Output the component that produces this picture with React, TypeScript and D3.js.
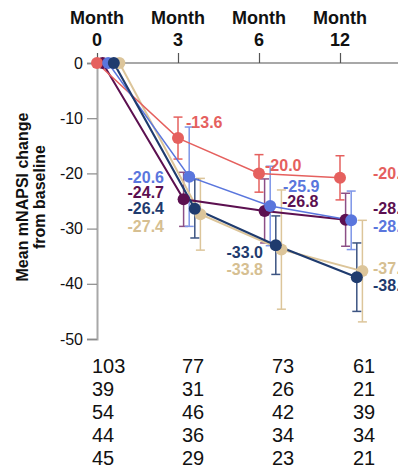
import React, { useEffect, useRef } from "react";
import * as d3 from "d3";

// time points (months) and y ticks
const months = ["0", "3", "6", "12"];
const yTicks = [0, -10, -20, -30, -40, -50];

// mean change and error per group
const redValues = [0, -13.6, -20.0, -20.8];
const redErr = [0, 3.8, 3.4, 4.0];
const purpleValues = [0, -24.7, -26.8, -28.4];
const purpleErr = [0, 4.9, 5.8, 4.8];
const blueValues = [0, -20.6, -25.9, -28.5];
const blueErr = [0, 9.0, 7.2, 5.3];
const navyValues = [0, -26.4, -33.0, -38.8];
const navyErr = [0, 5.3, 5.3, 6.2];
const tanValues = [0, -27.4, -33.8, -37.7];
const tanErr = [0, 6.5, 10.8, 9.2];

// patients at each visit (table under the chart)
const nRow1 = [103, 77, 73, 61];
const nRow2 = [39, 31, 26, 21];
const nRow3 = [54, 46, 42, 39];
const nRow4 = [44, 36, 34, 34];
const nRow5 = [45, 29, 23, 21];

type Lbl = { anchor: string; dx: number; dy: number } | null;

// label nudges (px) relative to month tick / point, kept apart from the data
const redLabels: Lbl[] = [null, { anchor: "start", dx: 8, dy: -16 }, { anchor: "start", dx: 6, dy: -8 }, { anchor: "start", dx: 33, dy: -5 }];
const purpleLabels: Lbl[] = [null, { anchor: "end", dx: -14, dy: -7 }, { anchor: "start", dx: 23, dy: -10 }, { anchor: "start", dx: 33, dy: -12 }];
const blueLabels: Lbl[] = [null, { anchor: "end", dx: -14, dy: 1 }, { anchor: "start", dx: 24, dy: -20 }, { anchor: "start", dx: 33, dy: 6 }];
const navyLabels: Lbl[] = [null, { anchor: "end", dx: -14, dy: 0 }, { anchor: "end", dx: 4, dy: 7 }, { anchor: "start", dx: 33, dy: 8 }];
const tanLabels: Lbl[] = [null, { anchor: "end", dx: -14, dy: 12 }, { anchor: "end", dx: 4, dy: 20 }, { anchor: "start", dx: 33, dy: -3 }];

const series = [
  { key: "red", values: redValues, err: redErr, labels: redLabels, slot: 0, color: "#e5605e", errColor: "#e5605e", textColor: "#e5605e", width: 1.5 },
  { key: "purple", values: purpleValues, err: purpleErr, labels: purpleLabels, slot: 1, color: "#5c1050", errColor: "#8c4f86", textColor: "#5c1050", width: 2 },
  { key: "blue", values: blueValues, err: blueErr, labels: blueLabels, slot: 2, color: "#5a76dd", errColor: "#7d95e8", textColor: "#5a76dd", width: 1.5 },
  { key: "navy", values: navyValues, err: navyErr, labels: navyLabels, slot: 3, color: "#1f3b6e", errColor: "#3c5482", textColor: "#1f3b6e", width: 2.2 },
  { key: "tan", values: tanValues, err: tanErr, labels: tanLabels, slot: 4, color: "#dcc59a", errColor: "#dcc59a", textColor: "#d6bf92", width: 2 },
];
// paint order so the overlapping dots stack as in the figure
const drawOrder = ["tan", "purple", "red", "blue", "navy"];

const nRows = [nRow1, nRow2, nRow3, nRow4, nRow5];

const FONT = "'Liberation Sans', Arial, sans-serif";

const App = () => {
  const svgRef = useRef<SVGSVGElement>(null);

  useEffect(() => {
    const svg = d3.select(svgRef.current);
    svg.selectAll("*").remove();

    const width = 398,
      height = 469;
    svg.attr("width", width).attr("height", height).style("font-family", FONT);

    const x = d3.scalePoint<string>().domain(months).range([97, 340]);
    const y = d3.scaleLinear().domain([0, -50]).range([63, 339]);
    const slotGap = 5.6;
    const px = (m: string, slot: number) => (x(m) as number) + slot * slotGap;

    // y axis
    const yAxis = svg
      .append("g")
      .attr("transform", "translate(97,0)")
      .call(d3.axisLeft(y).tickValues(yTicks).tickSize(10).tickPadding(4).tickFormat((d) => String(d)));
    yAxis.select(".domain").attr("stroke", "#a8a8a8").attr("stroke-width", 2);
    yAxis.selectAll(".tick line").attr("stroke", "#8a8a8a").attr("stroke-width", 1.2);
    yAxis.selectAll(".tick text").attr("font-size", 16).attr("fill", "#111").attr("font-family", FONT);

    // top axis
    svg
      .append("line")
      .attr("x1", 97)
      .attr("x2", width)
      .attr("y1", 63)
      .attr("y2", 63)
      .attr("stroke", "#a8a8a8")
      .attr("stroke-width", 2);
    const xAxis = svg
      .append("g")
      .attr("transform", "translate(0,63)")
      .call(d3.axisTop(x).tickSize(10).tickFormat(() => ""));
    xAxis.select(".domain").remove();
    xAxis.selectAll(".tick line").attr("stroke", "#555").attr("stroke-width", 1.2);

    const header = svg.append("g").attr("font-weight", "bold").attr("font-size", 18).attr("fill", "#111").attr("text-anchor", "middle");
    header
      .selectAll(".h1")
      .data(months)
      .enter()
      .append("text")
      .attr("x", (d) => x(d) as number)
      .attr("y", 24)
      .text("Month");
    header
      .selectAll(".h2")
      .data(months)
      .enter()
      .append("text")
      .attr("x", (d) => x(d) as number)
      .attr("y", 46)
      .text((d) => d);

    // y title
    const title = svg
      .append("text")
      .attr("transform", "translate(28,197) rotate(-90)")
      .attr("text-anchor", "middle")
      .attr("font-weight", "bold")
      .attr("font-size", 16)
      .attr("fill", "#111");
    title.append("tspan").attr("x", 0).attr("y", 0).text("Mean mNAPSI change");
    title.append("tspan").attr("x", 0).attr("y", 17).text("from baseline");

    const ordered = drawOrder.map((k) => series.find((s) => s.key === k)!);

    // error bars
    ordered.forEach((s) => {
      const g = svg.append("g").attr("stroke", s.errColor).attr("stroke-width", 1.5).attr("fill", "none");
      months.forEach((m, i) => {
        if (!s.err[i]) return;
        const cx = px(m, s.slot);
        const top = y(s.values[i] + s.err[i]);
        const bot = y(s.values[i] - s.err[i]);
        g.append("line").attr("x1", cx).attr("x2", cx).attr("y1", top).attr("y2", bot);
        g.append("line").attr("x1", cx - 4.5).attr("x2", cx + 4.5).attr("y1", top).attr("y2", top);
        g.append("line").attr("x1", cx - 4.5).attr("x2", cx + 4.5).attr("y1", bot).attr("y2", bot);
      });
    });

    // lines
    ordered.forEach((s) => {
      const line = d3
        .line<number>()
        .x((_, i) => px(months[i], s.slot))
        .y((d) => y(d));
      svg
        .append("path")
        .datum(s.values)
        .attr("d", line)
        .attr("fill", "none")
        .attr("stroke", s.color)
        .attr("stroke-width", s.width);
    });

    // dots
    ordered.forEach((s) => {
      svg
        .append("g")
        .selectAll("circle")
        .data(s.values)
        .enter()
        .append("circle")
        .attr("cx", (_, i) => px(months[i], s.slot))
        .attr("cy", (d) => y(d))
        .attr("r", 6)
        .attr("fill", s.color);
    });

    // value labels
    series.forEach((s) => {
      svg
        .append("g")
        .selectAll("text")
        .data(s.values.map((v, i) => ({ v, i, l: s.labels[i] })).filter((d) => d.l))
        .enter()
        .append("text")
        .attr("x", (d) => (x(months[d.i]) as number) + d.l!.dx)
        .attr("y", (d) => y(d.v) + d.l!.dy)
        .attr("dy", "0.36em")
        .attr("text-anchor", (d) => d.l!.anchor)
        .attr("font-weight", "bold")
        .attr("font-size", 16)
        .attr("fill", s.textColor)
        .text((d) => d.v.toFixed(1));
    });

    // numbers at risk
    const tableX = d3.scaleOrdinal<string, number>().domain(months).range([92, 182, 272, 353]);
    const rowY = d3.scaleLinear().domain([0, 1]).range([373, 396]);
    nRows.forEach((row, r) => {
      svg
        .append("g")
        .selectAll("text")
        .data(row)
        .enter()
        .append("text")
        .attr("x", (_, i) => tableX(months[i]))
        .attr("y", rowY(r))
        .attr("font-size", 20)
        .attr("fill", "#111")
        .text((d) => d);
    });
  }, []);

  return (
    <div style={{ position: "absolute", left: 0, top: 0 }}>
      <svg ref={svgRef}></svg>
    </div>
  );
};

export default App;
